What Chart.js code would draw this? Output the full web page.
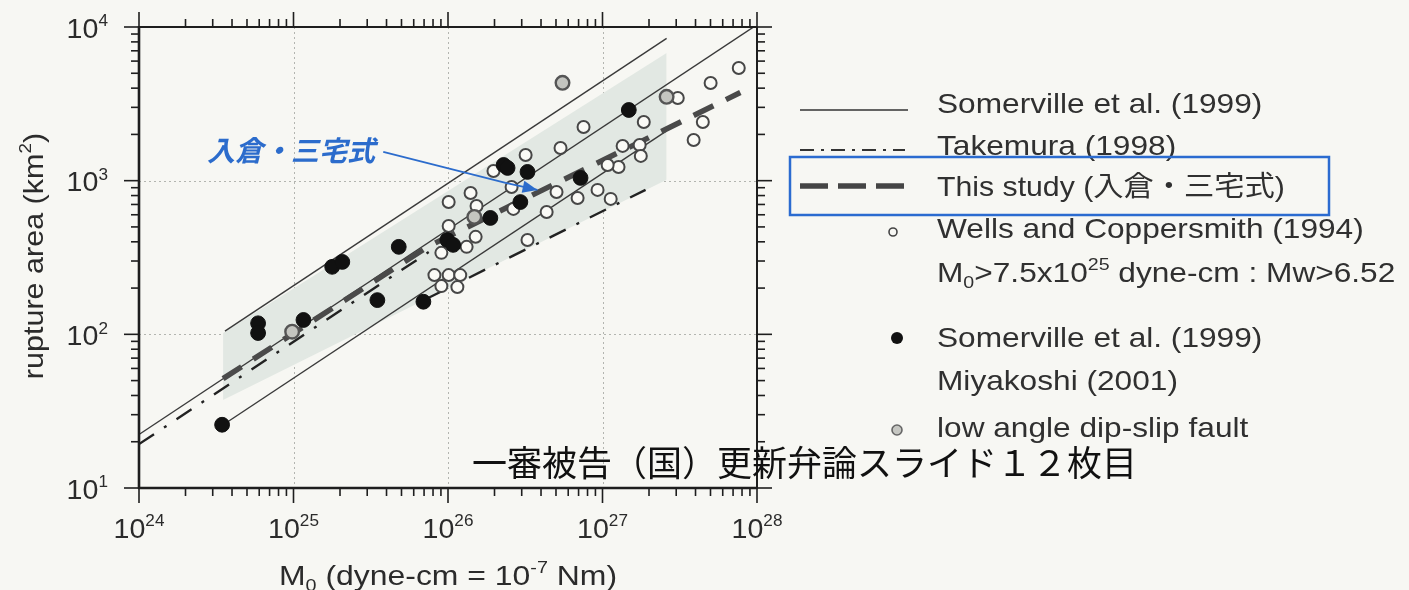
<!DOCTYPE html>
<html>
<head>
<meta charset="utf-8">
<script src="https://cdn.jsdelivr.net/npm/chart.js@4.4.1/dist/chart.umd.min.js"></script>
<style>
  html, body { margin: 0; padding: 0; background: #f7f7f3; }
  canvas { display: block; }
</style>
</head>
<body>
<canvas id="c" width="1409" height="590"></canvas>
<script>
// Axis decades (dyne-cm on x, km^2 on y)
const xTickValues = [1e24, 1e25, 1e26, 1e27, 1e28];
const xTickExponents = ['24', '25', '26', '27', '28'];
const yTickValues = [1e1, 1e2, 1e3, 1e4];
const yTickExponents = ['1', '2', '3', '4'];

// Wells and Coppersmith (1994), M0 > 7.5x10^25 dyne-cm
const wellsM0 = [1.01e26, 1.40e26, 1.53e26, 3.18e26, 2.58e26, 1.51e26, 1.32e26, 9.06e25, 1.01e26,
  2.65e26, 4.35e26, 5.04e26, 3.27e26, 8.17e25, 1.01e26, 1.20e26, 9.06e25, 1.15e26, 5.35e26, 7.54e26,
  1.85e27, 1.35e27, 1.74e27, 1.77e27, 1.27e27, 1.08e27, 9.29e26, 1.13e27, 6.90e26, 1.97e26,
  4.46e27, 3.89e27, 5.01e27, 7.62e27, 3.07e27];
const wellsArea = [726, 831, 684, 1469, 910, 431, 371, 339, 507,
  655, 626, 844, 411, 243, 243, 243, 206, 203, 1633, 2236,
  2408, 1683, 1708, 1449, 1228, 1265, 871, 761, 771, 1156,
  2408, 1841, 4325, 5410, 3452];

// Somerville et al. (1999) events
const somervilleM0 = [3.45e24, 5.9e24, 5.9e24, 1.16e25, 1.78e25, 2.07e25, 3.49e25, 4.8e25, 6.93e25,
  9.9e25, 1.08e26, 1.88e26, 2.29e26, 2.43e26, 2.94e26, 3.27e26, 7.21e26, 1.48e27];
const somervilleArea = [25.8, 118, 102, 124, 275, 296, 167, 371, 163,
  411, 382, 572, 1265, 1210, 726, 1140, 1042, 2884];

// Miyakoshi (2001), low angle dip-slip faults
const miyakoshiM0 = [9.8e24, 1.48e26, 5.51e26, 2.60e27];
const miyakoshiArea = [104, 581, 4330, 3510];

// Scaling relations
const somervilleFitM0 = [1e24, 1e28];
const somervilleFitArea = [22.3, 10350];
const somervilleHighM0 = [3.6e24, 2.6e27];
const somervilleHighArea = [105, 8430];
const somervilleLowM0 = [3.45e24, 2.6e27];
const somervilleLowArea = [25.5, 2108];
const takemuraSmallM0 = [1e24, 7.5e25];
const takemuraSmallArea = [19.3, 343];
const takemuraLargeM0 = [7.5e25, 1.9e27];
const takemuraLargeArea = [173, 872];
const thisStudyM0 = [3.5e24, 7.5e25, 7.8e27];
const thisStudyArea = [51.5, 375, 3745];

// Shaded scatter band around the relations
const bandM0 = [3.5e24, 2.6e27];
const bandHighArea = [102, 6780];
const bandLowArea = [37.4, 1012];

// Annotation: label position and arrow path (M0, area)
const noteM0 = [2.75e24, 3.81e25, 2.36e26, 3.79e26];
const noteArea = [1585, 1538, 966, 871];

const PAGE_BG = '#f7f7f3';
const INK = '#2b2b2b';
const SANS = '"Liberation Sans", Arial, sans-serif';
const JP = '"Noto Sans CJK JP", sans-serif';

function pts(xs, ys) { return xs.map((v, i) => ({ x: v, y: ys[i] })); }

// Text with optional superscript / subscript runs, vertically centred on y
function drawRich(ctx, parts, x, y, size, align, sx, family, supRatio) {
  family = family || SANS; sx = sx || 1;
  const small = size * (supRatio || 0.62);
  let w = 0;
  parts.forEach(p => {
    ctx.font = (p.sup || p.sub ? small : size) + 'px ' + family;
    p.w = ctx.measureText(p.t).width; w += p.w;
  });
  const x0 = align === 'center' ? x - w * sx / 2 : align === 'right' ? x - w * sx : x;
  const base = y + size * 0.36;
  ctx.save();
  ctx.translate(x0, 0);
  ctx.scale(sx, 1);
  ctx.textBaseline = 'alphabetic';
  ctx.textAlign = 'left';
  let cx = 0;
  parts.forEach(p => {
    ctx.font = (p.sup || p.sub ? small : size) + 'px ' + family;
    const dy = p.sup ? -size * 0.42 : p.sub ? size * 0.22 : 0;
    ctx.fillText(p.t, cx, base + dy);
    cx += p.w;
  });
  ctx.restore();
}

function seg(ctx, x1, y1, x2, y2) { ctx.beginPath(); ctx.moveTo(x1, y1); ctx.lineTo(x2, y2); ctx.stroke(); }

const frame = {
  id: 'frame',
  beforeDraw(chart) {
    const { ctx, chartArea: a, scales: { x, y } } = chart;
    ctx.save();
    ctx.fillStyle = PAGE_BG;
    ctx.fillRect(0, 0, chart.width, chart.height);
    // dotted decade grid
    ctx.strokeStyle = '#b3b5b0';
    ctx.lineWidth = 1;
    ctx.setLineDash([2, 3]);
    xTickValues.slice(1, -1).forEach(v => {
      const px = Math.round(x.getPixelForValue(v)) + 0.5;
      seg(ctx, px, a.top, px, a.bottom);
    });
    yTickValues.slice(1, -1).forEach(v => {
      const py = Math.round(y.getPixelForValue(v)) + 0.5;
      seg(ctx, a.left, py, a.right, py);
    });
    ctx.restore();
  },
  afterDatasetsDraw(chart) {
    const { ctx, chartArea: a, scales: { x, y } } = chart;
    ctx.save();
    ctx.strokeStyle = '#1e1e1e';
    ctx.setLineDash([]);
    // frame
    ctx.lineWidth = 2.6;
    seg(ctx, a.left, a.top - 1, a.left, a.bottom + 1);
    seg(ctx, a.left - 1, a.bottom, a.right + 1, a.bottom);
    ctx.lineWidth = 2;
    seg(ctx, a.left, a.top, a.right, a.top);
    seg(ctx, a.right, a.top, a.right, a.bottom);

    // ticks, outward on all four sides
    const majorLen = 15, minorLen = 8;
    ctx.lineWidth = 1.6;
    const xd0 = Math.log10(x.min), xd1 = Math.log10(x.max);
    for (let d = xd0; d <= xd1; d++) {
      for (let k = 1; k <= 9; k++) {
        const v = k * Math.pow(10, d);
        if (v > x.max * 1.0001) break;
        const px = x.getPixelForValue(v);
        const len = k === 1 ? majorLen : minorLen;
        seg(ctx, px, a.bottom, px, a.bottom + len);
        seg(ctx, px, a.top, px, a.top - len);
      }
    }
    const yd0 = Math.log10(y.min), yd1 = Math.log10(y.max);
    for (let d = yd0; d <= yd1; d++) {
      for (let k = 1; k <= 9; k++) {
        const v = k * Math.pow(10, d);
        if (v > y.max * 1.0001) break;
        const py = y.getPixelForValue(v);
        const len = k === 1 ? majorLen : minorLen;
        seg(ctx, a.left, py, a.left - len, py);
        seg(ctx, a.right, py, a.right + len, py);
      }
    }

    // tick labels
    ctx.fillStyle = INK;
    xTickValues.forEach((v, i) => {
      drawRich(ctx, [{ t: '10' }, { t: xTickExponents[i], sup: true }], x.getPixelForValue(v), 528, 27, 'center', 1.06, SANS, 0.6);
    });
    yTickValues.forEach((v, i) => {
      drawRich(ctx, [{ t: '10' }, { t: yTickExponents[i], sup: true }], 108, y.getPixelForValue(v) + 1, 27, 'right', 1.06, SANS, 0.6);
    });

    // axis titles
    drawRich(ctx, [{ t: 'M' }, { t: '0', sub: true }, { t: ' (dyne-cm = 10' }, { t: '-7', sup: true }, { t: ' Nm)' }],
      448, 575, 28, 'center', 1.14);
    ctx.save();
    ctx.translate(33, 256);
    ctx.rotate(-Math.PI / 2);
    drawRich(ctx, [{ t: 'rupture area (km' }, { t: '2', sup: true }, { t: ')' }], 0, 0, 28, 'center', 1.09);
    ctx.restore();

    // annotation label and arrow onto the relation line
    const nx = noteM0.map(v => x.getPixelForValue(v));
    const ny = noteArea.map(v => y.getPixelForValue(v));
    ctx.fillStyle = '#2c6ccc';
    ctx.font = 'italic bold 28px ' + JP;
    ctx.textBaseline = 'middle';
    ctx.textAlign = 'left';
    ctx.fillText('入倉・三宅式', nx[0], ny[0]);
    ctx.strokeStyle = '#2c6ccc';
    ctx.lineWidth = 1.8;
    ctx.beginPath();
    ctx.moveTo(nx[1], ny[1]);
    ctx.lineTo(nx[2], ny[2]);
    ctx.lineTo(nx[3], ny[3]);
    ctx.stroke();
    const ang = Math.atan2(ny[3] - ny[2], nx[3] - nx[2]);
    ctx.beginPath();
    ctx.moveTo(nx[3], ny[3]);
    ctx.lineTo(nx[3] - 16 * Math.cos(ang - 0.4), ny[3] - 16 * Math.sin(ang - 0.4));
    ctx.lineTo(nx[3] - 16 * Math.cos(ang + 0.4), ny[3] - 16 * Math.sin(ang + 0.4));
    ctx.closePath();
    ctx.fillStyle = '#2c6ccc';
    ctx.fill();
    ctx.restore();
  },
  afterDraw(chart) {
    const ctx = chart.ctx;
    ctx.save();
    const tx = 937, fs = 28, sx = 1.13;
    // legend samples
    ctx.strokeStyle = '#333';
    ctx.lineWidth = 1.5;
    seg(ctx, 800, 110, 908, 110);
    ctx.lineWidth = 2.2;
    ctx.setLineDash([14, 7, 3, 7]);
    seg(ctx, 800, 150, 905, 150);
    ctx.lineWidth = 5.5;
    ctx.strokeStyle = '#454545';
    ctx.setLineDash([28, 10]);
    seg(ctx, 800, 186, 905, 186);
    ctx.setLineDash([]);
    ctx.strokeStyle = '#444';
    ctx.lineWidth = 1.6;
    ctx.beginPath(); ctx.arc(893, 232, 4, 0, Math.PI * 2); ctx.stroke();
    ctx.fillStyle = '#111';
    ctx.beginPath(); ctx.arc(897, 338, 6, 0, Math.PI * 2); ctx.fill();
    ctx.fillStyle = '#c6c7c2';
    ctx.strokeStyle = '#666';
    ctx.beginPath(); ctx.arc(897, 430, 5, 0, Math.PI * 2); ctx.fill(); ctx.stroke();

    // legend texts
    ctx.fillStyle = '#303030';
    drawRich(ctx, [{ t: 'Somerville et al. (1999)' }], tx, 103, fs, 'left', sx);
    drawRich(ctx, [{ t: 'Takemura (1998)' }], tx, 145, fs, 'left', sx);
    drawRich(ctx, [{ t: 'This study (入倉・三宅式)' }], tx, 186, fs, 'left', 1.08, '"Liberation Sans", "Noto Sans CJK JP", sans-serif');
    drawRich(ctx, [{ t: 'Wells and Coppersmith (1994)' }], tx, 228, fs, 'left', sx);
    drawRich(ctx, [{ t: 'M' }, { t: '0', sub: true }, { t: '>7.5x10' }, { t: '25', sup: true }, { t: ' dyne-cm : Mw>6.52' }], tx, 272, fs, 'left', sx);
    drawRich(ctx, [{ t: 'Somerville et al. (1999)' }], tx, 337, fs, 'left', sx);
    drawRich(ctx, [{ t: 'Miyakoshi (2001)' }], tx, 380, fs, 'left', sx);
    drawRich(ctx, [{ t: 'low angle dip-slip fault' }], tx, 427, fs, 'left', sx);

    // highlight box around this study
    ctx.strokeStyle = '#2b6bd0';
    ctx.lineWidth = 2.5;
    ctx.strokeRect(790, 157, 539, 58);

    // slide caption
    ctx.fillStyle = '#111';
    ctx.font = '35px ' + JP;
    ctx.textBaseline = 'middle';
    ctx.textAlign = 'left';
    ctx.fillText('一審被告（国）更新弁論スライド１２枚目', 472, 463);
    ctx.restore();
  }
};

const lineBase = { type: 'line', pointRadius: 0, tension: 0, fill: false };

new Chart(document.getElementById('c'), {
  type: 'scatter',
  data: {
    datasets: [
      { label: 'Wells and Coppersmith (1994)', data: pts(wellsM0, wellsArea), pointRadius: 6, pointBorderWidth: 2,
        pointBackgroundColor: '#fafaf6', pointBorderColor: '#474747', order: 2 },
      { label: 'Somerville et al. (1999)', data: pts(somervilleM0, somervilleArea), pointRadius: 7.4, pointBorderWidth: 1,
        pointBackgroundColor: '#111', pointBorderColor: '#111', order: 1 },
      { label: 'Miyakoshi (2001)', data: pts(miyakoshiM0, miyakoshiArea), pointRadius: 6.8, pointBorderWidth: 2.4,
        pointBackgroundColor: '#c4c5c0', pointBorderColor: '#555', order: 0 },
      Object.assign({}, lineBase, { label: 'Somerville et al. (1999)', data: pts(somervilleFitM0, somervilleFitArea),
        borderColor: '#3a3a3a', borderWidth: 1.4, order: 6 }),
      Object.assign({}, lineBase, { label: 'Somerville upper', data: pts(somervilleHighM0, somervilleHighArea),
        borderColor: '#3a3a3a', borderWidth: 1.4, order: 6 }),
      Object.assign({}, lineBase, { label: 'Somerville lower', data: pts(somervilleLowM0, somervilleLowArea),
        borderColor: '#3a3a3a', borderWidth: 1.4, order: 6 }),
      Object.assign({}, lineBase, { label: 'Takemura (1998)', data: pts(takemuraSmallM0, takemuraSmallArea),
        borderColor: '#222', borderWidth: 2.4, borderDash: [18, 12, 3, 12], order: 5 }),
      Object.assign({}, lineBase, { label: 'Takemura (1998) large', data: pts(takemuraLargeM0, takemuraLargeArea),
        borderColor: '#222', borderWidth: 2.4, borderDash: [18, 12, 3, 12], order: 5 }),
      Object.assign({}, lineBase, { label: 'This study', data: pts(thisStudyM0, thisStudyArea),
        borderColor: '#4a4a4a', borderWidth: 5.5, borderDash: [22, 14], order: 4 }),
      Object.assign({}, lineBase, { label: 'band high', data: pts(bandM0, bandHighArea),
        borderWidth: 0, borderColor: 'rgba(0,0,0,0)', order: 20 }),
      Object.assign({}, lineBase, { label: 'band low', data: pts(bandM0, bandLowArea),
        borderWidth: 0, borderColor: 'rgba(0,0,0,0)', backgroundColor: '#e2e8e3', fill: '-1', order: 21 })
    ]
  },
  options: {
    responsive: false,
    animation: false,
    events: [],
    layout: { padding: { left: 139, top: 27, right: 652, bottom: 102 } },
    scales: {
      x: { type: 'logarithmic', min: 1e24, max: 1e28, display: false },
      y: { type: 'logarithmic', min: 10, max: 1e4, display: false }
    },
    plugins: { legend: { display: false }, tooltip: { enabled: false } }
  },
  plugins: [frame]
});
</script>
</body>
</html>
